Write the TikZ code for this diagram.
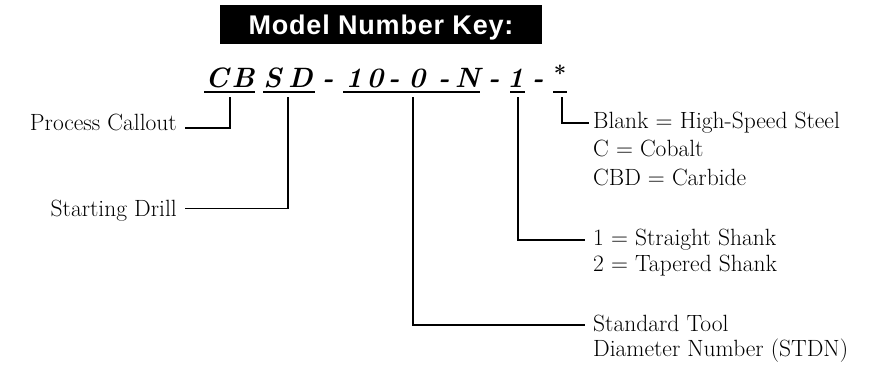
\documentclass[tikz,border=0pt]{standalone}
\usepackage{fontspec}
\newfontfamily\titlefont[LetterSpace=3]{Liberation Sans}
\begin{document}
\begin{tikzpicture}[x=1pt,y=-1pt,
  lbl/.style={font=\fontsize{23.5}{28}\selectfont, inner sep=0pt},
  lblL/.style={lbl, anchor=base east},
  lblR/.style={lbl, anchor=base west},
  codechar/.style={font=\fontsize{28}{30}\selectfont\bfseries\itshape, inner sep=0pt, anchor=base},
  lead/.style={line width=1.9pt, line join=miter, line cap=butt},
  uline/.style={line width=1.3pt}]
\useasboundingbox (0,0) rectangle (885,365);
% title
\node[fill=black, text=white, minimum width=322pt, minimum height=39pt, inner sep=0pt,
      text height=19pt, text depth=0pt,
      font=\titlefont\bfseries\fontsize{27}{30}\selectfont] (title) at (381,24.5) {Model Number Key:};
% code characters
\foreach \t/\x [count=\i] in {C/217,B/243,S/272.5,D/300.5,-/328,1/354,0/375,-/394,0/417,-/444,N/467.5,-/494,1/515.5,-/538}
  \node[codechar] (c\i) at (\x,87) {\t};
\node[font=\fontsize{22}{24}\selectfont\bfseries, inner sep=0pt, anchor=north] (star) at (560,65) {*};
% underlines
\coordinate (uCBa) at (204,92);  \coordinate (uCBb) at (255,92);
\coordinate (uSDa) at (263,92);  \coordinate (uSDb) at (315,92);
\coordinate (uNa)  at (343,92);  \coordinate (uNb)  at (480,92);
\coordinate (uSa)  at (510,92);  \coordinate (uSb)  at (525,92);
\coordinate (uMa)  at (553,92);  \coordinate (uMb)  at (567,92);
\draw[uline] (uCBa) -- (uCBb);
\draw[uline] (uSDa) -- (uSDb);
\draw[uline] (uNa) -- (uNb);
\draw[uline] (uSa) -- (uSb);
\draw[uline] (uMa) -- (uMb);
% labels
\node[lblL] (pc) at (177,130.5) {Process Callout};
\node[lblL] (sd) at (177,216.7) {Starting Drill};
\node[lblR] (m1) at (593,128.3) {Blank = High-Speed Steel};
\node[lblR] (m2) at (593,156.7) {C = Cobalt};
\node[lblR] (m3) at (593,185) {CBD = Carbide};
\node[lblR] (s1) at (593,245) {1 = Straight Shank};
\node[lblR] (s2) at (593,271.7) {2 = Tapered Shank};
\node[lblR] (t1) at (593,331.7) {Standard Tool};
\node[lblR] (t2) at (593,356.7) {Diameter Number (STDN)};
% leader lines
\coordinate (vP) at (230,97);  \coordinate (eP) at (185,128);
\coordinate (vD) at (288,97);  \coordinate (eD) at (185,208.5);
\coordinate (vN) at (413,97);  \coordinate (eN) at (585,325);
\coordinate (vS) at (518,97);  \coordinate (eS) at (585,240);
\coordinate (vM) at (562,97);  \coordinate (eM) at (589,123);
\draw[lead] (vP) |- (eP);
\draw[lead] (vD) |- (eD);
\draw[lead] (vN) |- (eN);
\draw[lead] (vS) |- (eS);
\draw[lead] (vM) |- (eM);
\end{tikzpicture}
\end{document}
